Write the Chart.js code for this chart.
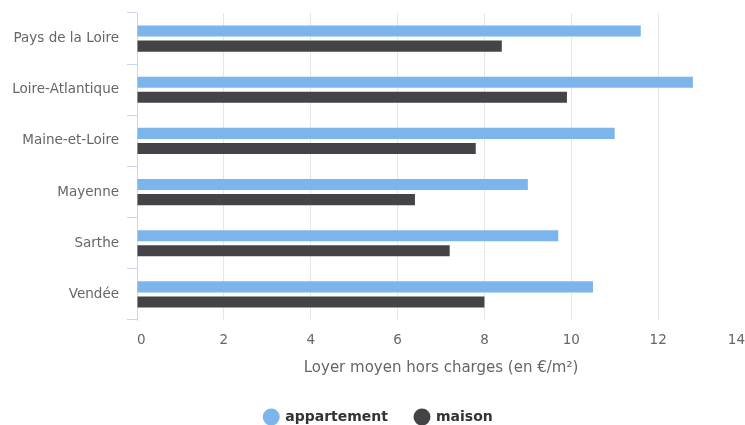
<!DOCTYPE html>
<html>
<head>
<meta charset="utf-8">
<script src="https://cdn.jsdelivr.net/npm/chart.js@4"></script>
<style>
  body { margin: 0; background: #fff; }
</style>
</head>
<body>
<canvas id="chart" width="745" height="425"></canvas>
<script>
// --- DATA ---
const departements = ['Pays de la Loire', 'Loire-Atlantique', 'Maine-et-Loire', 'Mayenne', 'Sarthe', 'Vendée'];
const appartement = [11.6, 12.8, 11.0, 9.0, 9.7, 10.5];
const maison = [8.4, 9.9, 7.8, 6.4, 7.2, 8.0];
const xTicks = [0, 2, 4, 6, 8, 10, 12, 14];
const axisTitle = 'Loyer moyen hors charges (en €/m²)';

const FONT = 'DejaVu Sans';

new Chart(document.getElementById('chart'), {
    type: 'bar',
    data: {
        labels: departements,
        datasets: [
            { label: 'appartement', data: appartement, backgroundColor: '#7cb5ec', categoryPercentage: 0.59, barPercentage: 0.73 },
            { label: 'maison', data: maison, backgroundColor: '#434348', categoryPercentage: 0.59, barPercentage: 0.73 }
        ]
    },
    options: {
        indexAxis: 'y',
        responsive: false,
        animation: false,
        // left padding only nudges the legend to the right, the y axis width below compensates
        layout: { padding: { top: 13, right: 0, left: 12, bottom: 0 } },
        scales: {
            x: {
                min: xTicks[0],
                max: xTicks[xTicks.length - 1],
                afterBuildTicks: (scale) => { scale.ticks = xTicks.map(v => ({ value: v })); },
                afterFit: (scale) => {
                    // fixed axis band height, no side padding so the plot reaches the right edge
                    scale.height = 63;
                    scale.paddingLeft = 0;
                    scale.paddingRight = 0;
                },
                ticks: { color: '#666666', font: { family: FONT, size: 13.5 }, padding: 12, align: 'inner', maxRotation: 0 },
                grid: {
                    drawTicks: false,
                    color: (c) => (c.tick && c.tick.value === 0) ? 'rgba(0,0,0,0)' : '#e6e6e6'
                },
                border: { display: false },
                title: {
                    display: true,
                    text: axisTitle,
                    color: '#666666',
                    font: { family: FONT, size: 15 },
                    padding: { top: 0, bottom: 6 }
                }
            },
            y: {
                afterFit: (scale) => {
                    scale.width = 125;
                    scale.paddingTop = 0;
                    scale.paddingBottom = 0;
                },
                ticks: { color: '#666666', font: { family: FONT, size: 13.5 }, padding: 8 },
                grid: { drawOnChartArea: false, tickLength: 10, color: '#ccd6eb', offset: true },
                border: { color: '#ccd6eb' }
            }
        },
        plugins: {
            legend: {
                position: 'bottom',
                maxHeight: 42,
                labels: {
                    usePointStyle: true,
                    pointStyle: 'circle',
                    boxWidth: 14,
                    boxHeight: 12,
                    padding: 27,
                    color: '#333333',
                    font: { family: FONT, size: 14, weight: 'bold' }
                }
            },
            tooltip: { enabled: false }
        }
    }
});
</script>
</body>
</html>
